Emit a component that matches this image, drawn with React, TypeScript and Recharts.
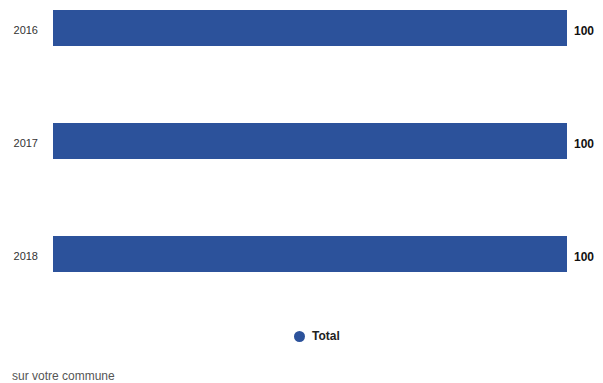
import React from 'react';
import { BarChart, Bar, XAxis, YAxis, Legend, LabelList } from 'recharts';

const years = ['2016', '2017', '2018'];
const totals = [100, 100, 100];
const seriesName = 'Total';
const footnote = 'sur votre commune';

const data = years.map((y, i) => ({ year: y, total: totals[i] }));

const BLUE = '#2c529b';
const FONT = '"Liberation Sans", Arial, sans-serif';

const LegendContent = () => (
  <div style={{ display: 'flex', alignItems: 'center', fontFamily: FONT }}>
    <span
      style={{
        display: 'inline-block',
        width: 11,
        height: 11,
        borderRadius: '50%',
        background: BLUE,
        marginRight: 7,
      }}
    />
    <span style={{ fontSize: 12, fontWeight: 'bold', color: '#222' }}>{seriesName}</span>
  </div>
);

export default function App() {
  return (
    <div style={{ position: 'absolute', left: 0, top: 0, width: 603, height: 383, overflow: 'hidden', background: '#fff' }}>
      <div style={{ position: 'absolute', left: 0, top: -29 }}>
        <BarChart
          width={603}
          height={412}
          data={data}
          layout="vertical"
          margin={{ top: 0, right: 36, bottom: 73, left: 0 }}
        >
          <XAxis type="number" domain={[0, 100]} hide />
          <YAxis
            type="category"
            dataKey="year"
            width={53}
            axisLine={false}
            tickLine={false}
            tickMargin={9}
            tick={{ fontSize: 11, fill: '#333', fontFamily: FONT, dy: 2.5 }}
          />
          <Legend
            layout="horizontal"
            verticalAlign="middle"
            content={<LegendContent />}
            wrapperStyle={{ top: 358, left: 294, width: 120 }}
          />
          <Bar dataKey="total" name={seriesName} fill={BLUE} barSize={36} isAnimationActive={false}>
            <LabelList
              dataKey="total"
              position="right"
              offset={7}
              style={{ fontSize: 12, fontWeight: 'bold', fill: '#111', fontFamily: FONT, transform: 'translateY(2.5px)' }}
            />
          </Bar>
        </BarChart>
      </div>
      <div
        style={{
          position: 'absolute',
          left: 12,
          top: 369,
          fontSize: 12,
          color: '#555',
          fontFamily: FONT,
          lineHeight: '15px',
        }}
      >
        {footnote}
      </div>
    </div>
  );
}
